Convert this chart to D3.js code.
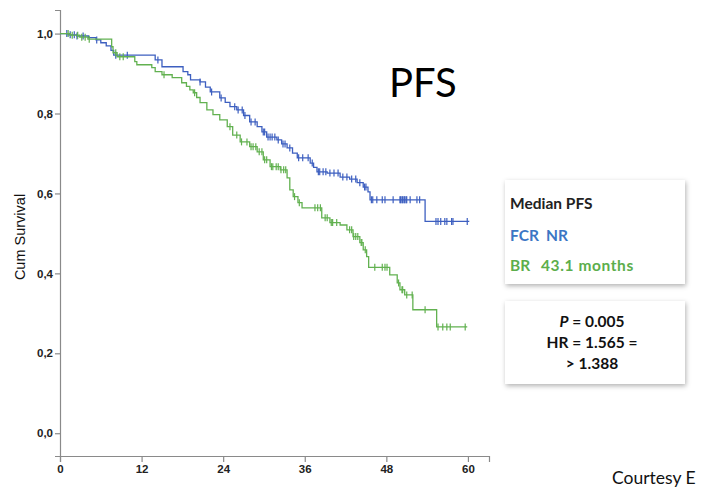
<!DOCTYPE html>
<html>
<head>
<meta charset="utf-8">
<script src="https://cdn.jsdelivr.net/npm/d3@7"></script>
<style>
  body { margin: 0; background: #fff; overflow: hidden; }
  svg { display: block; }
</style>
</head>
<body>
<svg id="chart" width="703" height="488"></svg>
<script>
// step points [months, cum survival]
var fcrSteps = [[0,1.0],[1.2,0.997],[2.5,0.994],[4.2,0.99],[5.3,0.984],[6.0,0.977],[6.8,0.969],[7.5,0.958],[7.9,0.946],
  [14.0,0.934],[15.0,0.917],[18.1,0.905],[18.8,0.897],[19.2,0.884],[20.6,0.879],[21.4,0.866],[22.1,0.854],[23.5,0.839],
  [24.3,0.828],[25,0.817],[26,0.809],[27,0.795],[27.9,0.779],[29,0.767],[29.7,0.754],[30.4,0.741],[31.9,0.734],
  [32.6,0.724],[33.4,0.714],[34.2,0.701],[34.9,0.689],[36.8,0.676],[37.3,0.665],[37.8,0.654],[39.3,0.651],[41.2,0.641],
  [42.6,0.636],[43.7,0.627],[44.6,0.616],[45.3,0.604],[45.6,0.584],[53.7,0.53],[60.2,0.53]];
var brSteps = [[0,1.0],[1.5,0.996],[2.9,0.991],[4.1,0.986],[7.6,0.967],[7.8,0.952],[8.4,0.942],[11.0,0.930],[11.3,0.922],
  [13.5,0.915],[14.0,0.905],[15.0,0.897],[16.5,0.890],[17.9,0.877],[18.6,0.868],[19.1,0.859],[19.6,0.852],[20.1,0.84],
  [20.6,0.827],[21.6,0.809],[22.5,0.797],[23.5,0.784],[24.6,0.767],[25.4,0.746],[26.5,0.729],[27.9,0.717],[29.0,0.704],
  [29.9,0.684],[30.9,0.667],[32.4,0.659],[33.4,0.639],[33.8,0.609],[34.3,0.592],[35.0,0.577],[35.6,0.564],[38.5,0.539],
  [39.7,0.527],[41.2,0.521],[42.2,0.509],[43.1,0.492],[44.1,0.477],[44.6,0.459],[45.1,0.442],[45.4,0.415],[48.5,0.396],
  [49.6,0.376],[50.0,0.359],[50.7,0.346],[51.9,0.309],[55.4,0.266],[59.9,0.266]];

// censored times (months)
var fcrCensor = [1.0,1.5,2.1,2.5,3.4,5.4,8.2,9.9,14.4,20.6,22.3,23.7,25.7,26.2,26.8,27.2,28.1,28.7,29.9,30.1,30.6,30.9,
  31.2,31.6,32.1,32.8,33.1,33.8,35.1,35.7,36.5,37.1,38.0,38.2,38.7,39.1,39.7,40.3,40.9,41.6,42.2,42.9,43.5,44.1,44.8,
  45.0,45.8,46.0,46.6,47.4,47.8,49.0,50.0,50.1,50.3,50.4,50.6,50.7,50.9,51.0,51.5,52.5,52.9,55.3,55.6,56.0,56.6,56.9,
  57.6,57.8,59.9];
var brCensor = [1.2,1.8,2.6,3.2,3.7,4.3,8.2,8.8,9.3,15.3,19.8,25.0,26.0,26.7,27.5,28.1,28.4,28.8,29.3,29.7,30.1,30.4,
  31.1,31.3,31.8,32.1,32.5,32.9,33.2,34.5,35.2,37.5,37.9,38.3,39.0,39.3,39.9,40.1,40.7,42.6,42.9,43.2,43.5,43.8,44.3,
  44.4,44.9,46.3,47.4,47.8,48.1,49.8,50.3,50.4,51.0,51.8,53.7,55.6,56.3,56.9,57.4,59.6];

var xTicks = [0, 12, 24, 36, 48, 60];
var yTicks = [0, 0.2, 0.4, 0.6, 0.8, 1.0];

var groups = [
  { name: 'FCR', steps: fcrSteps, censor: fcrCensor, color: '#3d5fc0' },
  { name: 'BR', steps: brSteps, censor: brCensor, color: '#62b150' }
];

var svg = d3.select('#chart');

var x = d3.scaleLinear().domain([0, 63.1]).range([60, 489]);
var y = d3.scaleLinear().domain([-0.057, 1.059]).range([456, 10]);

// axes
var yAxis = svg.append('g')
  .attr('transform', 'translate(60,0)')
  .call(d3.axisLeft(y).tickValues(yTicks).tickSize(5).tickPadding(2)
    .tickFormat(d => d3.format('.1f')(d).replace('.', ',')));
var xAxis = svg.append('g')
  .attr('transform', 'translate(0,456)')
  .call(d3.axisBottom(x).tickValues(xTicks).tickSize(6).tickPadding(3));

[xAxis, yAxis].forEach(function(a) {
  a.selectAll('path, line').attr('stroke', '#8a8a8a').attr('stroke-width', 1.2);
  a.selectAll('text').attr('fill', '#222').style('font', 'bold 11.5px "Liberation Sans", Arial, sans-serif');
});

svg.append('text')
  .attr('transform', 'translate(25,237) rotate(-90)')
  .attr('text-anchor', 'middle')
  .style('font', '14.5px "Liberation Sans", Arial, sans-serif')
  .attr('fill', '#111')
  .text('Cum Survival');

// step value at time t
function survAt(steps, t) {
  var s = steps[0][1];
  for (var i = 0; i < steps.length; i++) {
    if (steps[i][0] <= t) s = steps[i][1];
  }
  return s;
}

var line = d3.line()
  .x(d => x(d[0]))
  .y(d => y(d[1]))
  .curve(d3.curveStepAfter);

groups.forEach(function(g) {
  svg.append('path')
    .datum(g.steps)
    .attr('d', line)
    .attr('fill', 'none')
    .attr('stroke', g.color)
    .attr('stroke-width', 1.3);

  svg.append('g').selectAll('line')
    .data(g.censor)
    .enter()
    .append('line')
    .attr('x1', d => x(d)).attr('x2', d => x(d))
    .attr('y1', d => y(survAt(g.steps, d)) - 3.5)
    .attr('y2', d => y(survAt(g.steps, d)) + 3.5)
    .attr('stroke', g.color)
    .attr('stroke-width', 1.2);
});

// big title
svg.append('text')
  .attr('x', 389).attr('y', 97)
  .style('font', '40px Lato, "Open Sans", sans-serif')
  .attr('fill', '#000')
  .text('PFS');

// text boxes with shadow
var defs = svg.append('defs');
var f = defs.append('filter').attr('id', 'shadow').attr('x', '-10%').attr('y', '-10%').attr('width', '130%').attr('height', '140%');
f.append('feDropShadow').attr('dx', 1).attr('dy', 2).attr('stdDeviation', 2.5).attr('flood-color', '#000').attr('flood-opacity', 0.3);

svg.append('rect').attr('x', 505).attr('y', 180).attr('width', 180).attr('height', 104)
  .attr('fill', '#fff').attr('filter', 'url(#shadow)');
svg.append('rect').attr('x', 505).attr('y', 301).attr('width', 180).attr('height', 83)
  .attr('fill', '#fff').attr('filter', 'url(#shadow)');

var boxFont = 'bold 15.5px Lato, "Open Sans", sans-serif';
function boxText(tx, ty, str, color, anchor) {
  return svg.append('text').attr('x', tx).attr('y', ty)
    .attr('text-anchor', anchor || 'start')
    .style('font', boxFont).attr('fill', color).text(str);
}
boxText(510, 209, 'Median PFS', '#222');
boxText(510, 241, 'FCR', '#3b76c4');
boxText(546, 241, 'NR', '#3b76c4');
boxText(510, 271, 'BR', '#5cae4c');
boxText(541, 271, '43.1 months', '#5cae4c').style('letter-spacing', '0.6px');

var p = boxText(592, 327, '', '#111', 'middle');
p.append('tspan').style('font-style', 'italic').text('P');
p.append('tspan').text(' = 0.005');
boxText(592, 348, 'HR = 1.565  =', '#111', 'middle');
boxText(592, 369, '> 1.388', '#111', 'middle');

svg.append('text')
  .attr('x', 612).attr('y', 484)
  .style('font', '17.5px Lato, "Open Sans", sans-serif')
  .attr('fill', '#111')
  .text('Courtesy E');
</script>
</body>
</html>
